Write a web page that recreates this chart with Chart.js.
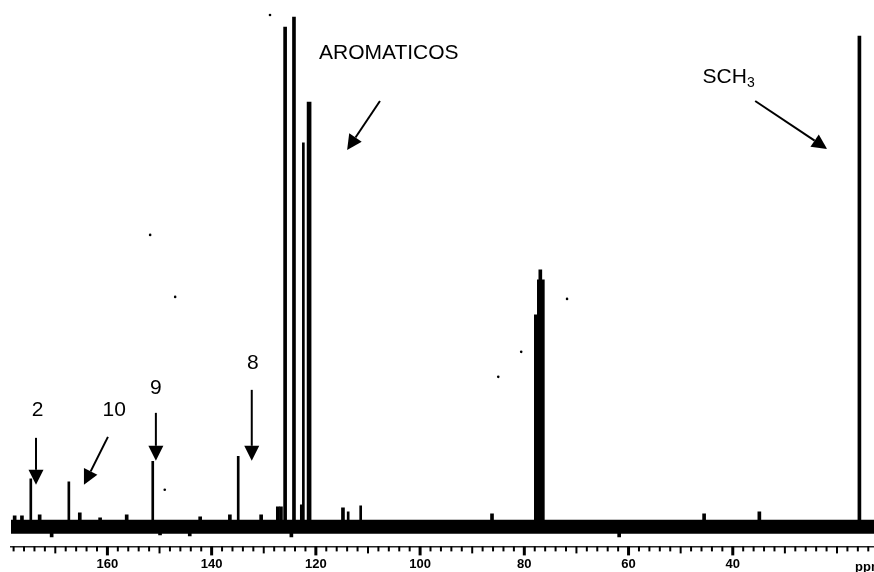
<!DOCTYPE html>
<html>
<head>
<meta charset="utf-8">
<script src="https://cdn.jsdelivr.net/npm/chart.js@4.4.0/dist/chart.umd.min.js"></script>
<style>
  html, body { margin: 0; background: #fff; }
  #wrap { width: 874px; height: 572px; }
</style>
</head>
<body>
<div id="wrap"><canvas id="nmr"></canvas></div>
<script>
// 13C spectrum, shift axis in ppm (reversed), intensity in arbitrary units
var shiftMax = 178.5;
var shiftMin = 12.9;
var labeledShifts = [160, 140, 120, 100, 80, 60, 40];

// numbered carbons 2, 10, 9, 8
var numberedShift  = [174.7, 167.4, 151.3, 134.9];
var numberedHeight = [48, 45, 65.5, 70.5];

// aromatic cluster
var aromaticShift  = [125.9, 124.2, 122.4, 121.3];
var aromaticHeight = [500, 510, 384, 425];

// weak lines next to the aromatics
var minorShift  = [113.8, 111.4];
var minorHeight = [15, 21];

// CDCl3
var solventShift  = [77.79, 76.83, 76.93];
var solventHeight = [212, 247, 257];

// S-CH3
var methylShift  = [15.7];
var methylHeight = [491];

// baseline noise excursions (up / down)
var noiseShift  = [177.8, 176.4, 173.0, 170.7, 165.3, 161.4, 156.3, 149.9, 144.2, 142.2, 136.5,
                   130.5, 127.3, 126.7, 124.7, 122.7, 114.8, 86.2, 61.8, 45.5, 34.9];
var noiseTop    = [11, 11, 12, 0, 14, 9, 12, 0, 0, 10, 12, 12, 20, 20, 0, 22, 19, 13, 0, 13, 15];
var noiseBottom = [0, 0, 0, -10, 0, 0, 0, -8, -9, 0, 0, 0, 0, 0, -10, 0, 0, 0, -10, 0, 0];

// stray specks on the plot
var speckShift  = [128.8, 151.8, 147.0, 149.0, 85.0, 80.6, 71.8];
var speckHeight = [512, 292, 230, 37, 150, 175, 228];

var aromaticPx = [3, 3, 2, 4];
var solventPx = [3, 7, 3];

function lines(shifts, heights, px) {
  return {
    type: 'bar',
    data: shifts.map(function (s, i) { return { x: s, y: heights[i] }; }),
    backgroundColor: '#000',
    borderWidth: 0,
    barThickness: px,
    grouped: false
  };
}

var datasets = [];
datasets.push({
  type: 'line',
  data: [{ x: shiftMax, y: 0 }, { x: shiftMin, y: 0 }],
  borderColor: '#000',
  borderWidth: 14,
  pointRadius: 0
});
datasets.push({
  type: 'bar',
  data: noiseShift.map(function (s, i) { return { x: s, y: [noiseBottom[i], noiseTop[i]] }; }),
  backgroundColor: '#000',
  borderWidth: 0,
  barThickness: 3,
  grouped: false
});
datasets.push(lines(numberedShift, numberedHeight, 2));
aromaticShift.forEach(function (s, i) {
  datasets.push(lines([s], [aromaticHeight[i]], aromaticPx[i]));
});
datasets.push(lines(minorShift, minorHeight, 2));
solventShift.forEach(function (s, i) {
  datasets.push(lines([s], [solventHeight[i]], solventPx[i]));
});
datasets.push(lines(methylShift, methylHeight, 3));
datasets.push({
  type: 'line',
  showLine: false,
  data: speckShift.map(function (s, i) { return { x: s, y: speckHeight[i] }; }),
  pointRadius: 1.3,
  pointBackgroundColor: '#000',
  pointBorderWidth: 0
});

// assignments drawn over the spectrum
var callouts = [
  { text: '2',  at: [173.4, 116.5], from: [173.7, 89],  to: [173.7, 42] },
  { text: '10', at: [158.7, 116.5], from: [159.9, 90],  to: [164.5, 42] },
  { text: '9',  at: [150.7, 139],   from: [150.7, 114], to: [150.7, 66] },
  { text: '8',  at: [132.1, 164],   from: [132.3, 137], to: [132.3, 66] }
];

var FONT = '"Liberation Sans", Arial, sans-serif';

function arrow(ctx, x1, y1, x2, y2) {
  var ang = Math.atan2(y2 - y1, x2 - x1);
  var len = 15, half = 7.5;
  var bx = x2 - len * Math.cos(ang), by = y2 - len * Math.sin(ang);
  ctx.beginPath();
  ctx.moveTo(x1, y1);
  ctx.lineTo(bx, by);
  ctx.lineWidth = 2;
  ctx.stroke();
  ctx.beginPath();
  ctx.moveTo(x2, y2);
  ctx.lineTo(bx + half * Math.sin(ang), by - half * Math.cos(ang));
  ctx.lineTo(bx - half * Math.sin(ang), by + half * Math.cos(ang));
  ctx.closePath();
  ctx.fill();
}

var annotate = {
  id: 'annotate',
  afterDraw: function (chart) {
    var ctx = chart.ctx, x = chart.scales.x, y = chart.scales.y;
    var px = function (p) { return [x.getPixelForValue(p[0]), y.getPixelForValue(p[1])]; };
    ctx.save();
    ctx.fillStyle = '#000';
    ctx.strokeStyle = '#000';

    // tick marks every 2 ppm, longer every 10, heavier under the numbers
    var axisY = chart.chartArea.bottom;
    for (var v = 14; v <= 178; v += 2) {
      var tx = x.getPixelForValue(v);
      var major = labeledShifts.indexOf(v) >= 0;
      var len = major ? 9 : (v % 10 === 0 ? 7 : 5);
      ctx.lineWidth = major ? 3 : 2;
      ctx.beginPath();
      ctx.moveTo(tx, axisY);
      ctx.lineTo(tx, axisY + len);
      ctx.stroke();
    }
    ctx.font = 'bold 13px ' + FONT;
    ctx.textAlign = 'left';
    ctx.textBaseline = 'alphabetic';
    ctx.fillText('ppm', 855, 571);

    ctx.font = '21px ' + FONT;
    ctx.textAlign = 'center';
    ctx.textBaseline = 'middle';
    callouts.forEach(function (c) {
      var p = px(c.at), a = px(c.from), b = px(c.to);
      ctx.fillText(c.text, p[0], p[1]);
      arrow(ctx, a[0], a[1], b[0], b[1]);
    });

    ctx.textAlign = 'left';
    ctx.textBaseline = 'alphabetic';
    var t = px([119.4, 468]);
    ctx.fillText('AROMATICOS', t[0], t[1]);
    var a1 = px([107.7, 426]), a2 = px([114.0, 377]);
    arrow(ctx, a1[0], a1[1], a2[0], a2[1]);

    var s = px([45.8, 444]);
    ctx.fillText('SCH', s[0], s[1]);
    var w = ctx.measureText('SCH').width;
    ctx.font = '14px ' + FONT;
    ctx.fillText('3', s[0] + w, s[1] + 4);
    var b1 = px([35.7, 426]), b2 = px([21.9, 378]);
    arrow(ctx, b1[0], b1[1], b2[0], b2[1]);
    ctx.restore();
  }
};

var ctx = document.getElementById('nmr').getContext('2d');
var spectrum = new Chart(ctx, {
  type: 'bar',
  data: { datasets: datasets },
  options: {
    responsive: true,
    maintainAspectRatio: false,
    animation: false,
    devicePixelRatio: 1,
    layout: { autoPadding: false, padding: { left: 11, right: 0, top: 0, bottom: 0 } },
    scales: {
      x: {
        type: 'linear',
        reverse: true,
        min: shiftMin,
        max: shiftMax,
        offset: false,
        border: { display: true, color: '#222', width: 1.5 },
        grid: {
          offset: false,
          drawOnChartArea: false,
          drawTicks: true,
          tickLength: 10,
          color: 'rgba(0,0,0,0)'
        },
        ticks: {
          stepSize: 2,
          autoSkip: false,
          maxRotation: 0,
          padding: 0,
          color: '#000',
          font: { family: FONT, size: 13, weight: 'bold' },
          callback: function (v) { return labeledShifts.indexOf(v) >= 0 ? String(v) : ''; }
        }
      },
      y: {
        display: false,
        min: -19.6,
        max: 527
      }
    },
    plugins: {
      legend: { display: false },
      tooltip: { enabled: false }
    }
  },
  plugins: [annotate]
});
</script>
</body>
</html>
